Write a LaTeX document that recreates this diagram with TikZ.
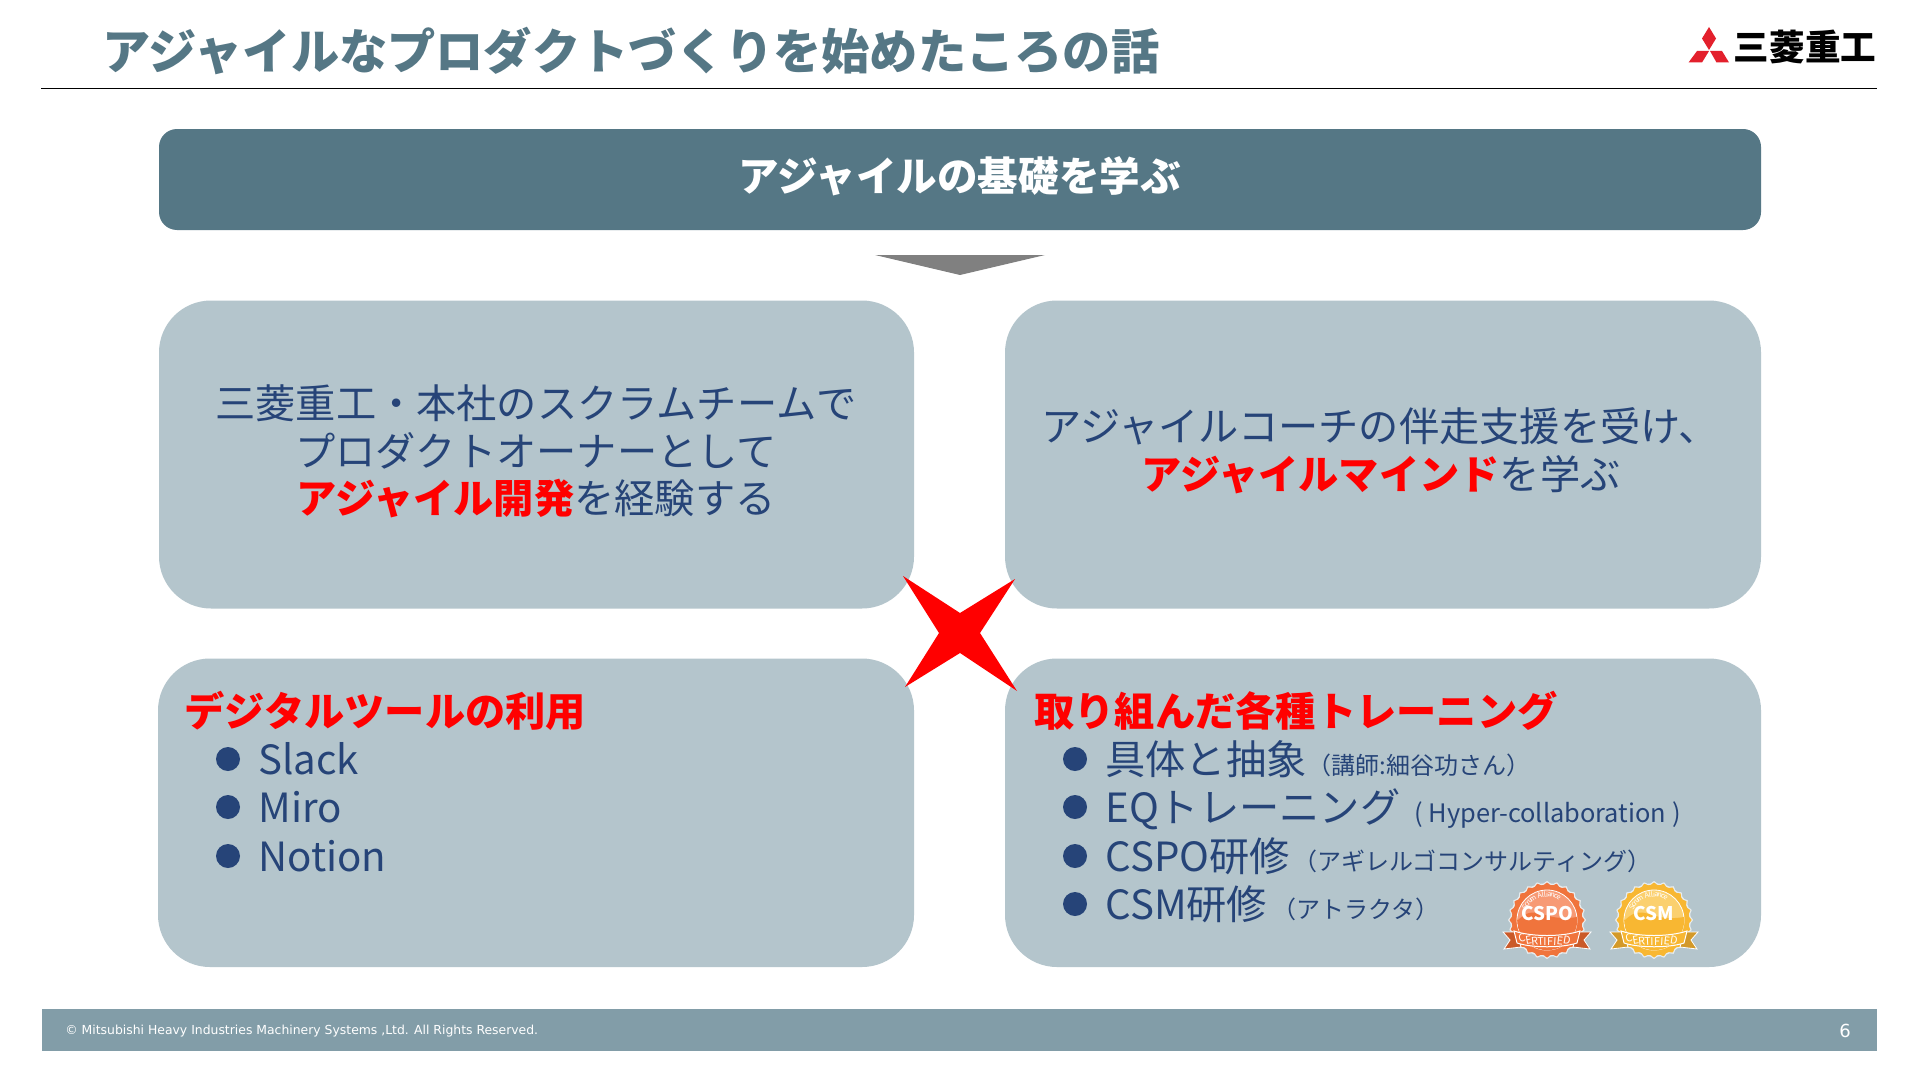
\documentclass[tikz,border=0pt]{standalone}
\usepackage{fontspec}
\setmainfont{Noto Sans CJK JP}
\newfontfamily\footfont{DejaVu Sans}
\definecolor{slate}{HTML}{557785}
\definecolor{pale}{HTML}{B4C5CC}
\definecolor{foot}{HTML}{829DA8}
\definecolor{ink}{HTML}{264478}
\definecolor{logored}{HTML}{E3202C}
\definecolor{omain}{HTML}{F0743C}
\definecolor{olight}{HTML}{F79A75}
\definecolor{odark}{HTML}{EE6A30}
\definecolor{ymain}{HTML}{F8B732}
\definecolor{ylight}{HTML}{FBD06F}
\definecolor{ydark}{HTML}{F8B430}
\tikzset{
  x=0.5pt,y=-0.5pt,
  panel/.style={fill=pale,rounded corners=26pt},
  tbig/.style={inner sep=0,font=\fontsize{20.12}{20}\selectfont,text=ink,text height=17.6pt,text depth=2.4pt},
  tsmall/.style={inner sep=0,font=\fontsize{12}{12}\selectfont,text=ink,text height=10.6pt,text depth=1.4pt},
  dot/.style={fill=ink},
  arcletter/.style={inner sep=0,text=white,font=\fontsize{3.6}{4}\selectfont},
  ribletter/.style={inner sep=0,text=white,font=\rmfamily\fontsize{5.4}{6}\selectfont},
}
\newcommand{\hot}[1]{\textcolor{red}{\textbf{#1}}}
% badge: cx, cy, main, light, dark, label
\newcommand{\badge}[6]{%
 \begin{scope}[shift={(#1,#2)},x=0.5pt,y=0.5pt]
  \fill[white,opacity=.7] plot[smooth cycle,samples=72,domain=0:355,variable=\t] ({(37.5+1.5*cos(24*\t))*cos(\t)},{(37.5+1.5*cos(24*\t))*sin(\t)});
  \fill[#3] plot[smooth cycle,samples=72,domain=0:355,variable=\t] ({(36+1.5*cos(24*\t))*cos(\t)},{(36+1.5*cos(24*\t))*sin(\t)});
  \draw[white,line width=0.4pt,fill=#4] (0,0) circle (15pt);
  \fill[#3] (-30,-1) .. controls (-10,19) and (-6,-3) .. (30,3) arc (6:-186:30) -- cycle;
  \foreach \ch/\ang in {S/150,c/143,r/137,u/131,m/123,A/107,l/100,l/95,i/90,a/84,n/77,c/70,e/63}{
    \node[arcletter,rotate=\ang-90] at (\ang:25.5) {\ch};
  }
  \node[text=white,font=\fontsize{9.4}{9}\selectfont\bfseries,inner sep=0] (#6label) at (0,7) {#6};
  \fill[#5!85!black,draw=white,line width=0.4pt] (-30,-12) -- (-44,-12) -- (-37,-20) -- (-43,-29) -- (-26,-27) -- cycle;
  \fill[#5!85!black,draw=white,line width=0.4pt] (30,-12) -- (44,-12) -- (37,-20) -- (43,-29) -- (26,-27) -- cycle;
  \fill[#3,draw=white,line width=0.5pt] (-33,-11) .. controls (-15,-17) and (15,-17) .. (33,-11) -- (30,-23) .. controls (15,-28) and (-15,-28) .. (-30,-23) -- cycle;
  \foreach \ch/\xx/\yy/\rr in {C/-25/-18/12,E/-18.5/-20/9,R/-12.5/-21/6,T/-6.5/-21.5/3,I/-2/-22/0,F/3/-22/0,I/8/-21.5/-3,E/13/-21/-6,D/20/-20/-9}{
    \node[ribletter,rotate=\rr] at (\xx,\yy) {\ch};
  }
 \end{scope}}
\begin{document}
\begin{tikzpicture}
\useasboundingbox (0,0) rectangle (1920,1081);
\fill[white] (0,0) rectangle (1920,1081);
% title
\node[inner sep=0,anchor=west,text=slate,font=\fontsize{24.12}{24}\selectfont\bfseries,text height=21.1pt,text depth=2.9pt] (title) at (102,51) {アジャイルなプロダクトづくりを始めたころの話};
\draw[black,line width=0.5pt] (41,88.5) -- (1877,88.5);
% logo
\fill[logored] (1709,27) -- (1716,38.5) -- (1709,50) -- (1702,38.5) -- cycle;
\fill[logored] (1697,51) -- (1709,51) -- (1702,62.5) -- (1688.5,62.5) -- cycle;
\fill[logored] (1710,51) -- (1722,51) -- (1729,62.5) -- (1716.5,62.5) -- cycle;
\node[inner sep=0,text=black,font=\fontsize{17.8}{17.8}\selectfont\bfseries,text height=15.4pt,text depth=2.1pt] (logo) at (1805,47.5) {三菱重工};
% banner
\fill[slate,rounded corners=9pt] (159,129) rectangle (1761,230);
\node[tbig,text=white,font=\fontsize{20.3}{20}\selectfont\bfseries] (banner) at (959.5,176) {アジャイルの基礎を学ぶ};
\fill[black!50] (875,255) -- (1045,255) -- (960,275) -- cycle;
% panels
\fill[panel] (159,300.5) rectangle (914,608.5);
\fill[panel] (1005,300.5) rectangle (1761,608.5);
\fill[panel] (158,658.5) rectangle (914,967);
\fill[panel] (1005,658.5) rectangle (1761,967);
% star
\fill[red] (903,576) -- (960,613) -- (1015,579) -- (980,633) -- (1017,691) -- (960,653) -- (905,687) -- (939,633) -- cycle;
% top left
\node[tbig] (a1) at (536,403) {三菱重工・本社のスクラムチームで};
\node[tbig] (a2) at (536,451) {プロダクトオーナーとして};
\node[tbig] (a3) at (536,498) {\hot{アジャイル開発}を経験する};
% top right
\node[tbig,anchor=west] (b1) at (1041,426) {アジャイルコーチの伴走支援を受け、};
\node[tbig,anchor=west] (b2) at (1141,474) {\hot{アジャイルマインド}を学ぶ};
% bottom left
\node[tbig,anchor=west] (c0) at (184,711) {\hot{デジタルツールの利用}};
\foreach \yy/\tt/\nn in {759/Slack/c1,807/Miro/c2,856/Notion/c3}{
  \fill[dot] (228,\yy) circle (6pt);
  \node[tbig,anchor=west] (\nn) at (258,\yy) {\tt};
}
% bottom right
\node[tbig,anchor=west] (d0) at (1034,711) {\hot{取り組んだ各種トレーニング}};
\foreach \yy in {759,807,856,904}{\fill[dot] (1075,\yy) circle (6pt);}
\node[tbig,anchor=west] (d1) at (1105,759) {具体と抽象};
\node[tbig,anchor=west] (d2) at (1105,807) {EQトレーニング};
\node[tbig,anchor=west] (d3) at (1105,856) {CSPO研修};
\node[tbig,anchor=west] (d4) at (1105,904) {CSM研修};
\node[tsmall,anchor=west] (e1) at (1307,765) {（講師:細谷功さん）};
\node[tsmall,anchor=west,font=\fontsize{12.7}{12}\selectfont] (e2) at (1414,813) {( Hyper-collaboration )};
\node[tsmall,anchor=west] (e3) at (1293,861) {（アギレルゴコンサルティング）};
\node[tsmall,anchor=west] (e4) at (1272,909) {（アトラクタ）};
% badges
\badge{1547}{920}{omain}{olight}{odark}{CSPO}
\badge{1654}{920}{ymain}{ylight}{ydark}{CSM}
% footer
\fill[foot] (42,1009) rectangle (1877,1051);
\node[inner sep=0,anchor=west,text=white,font=\footfont\fontsize{6.2}{7}\selectfont] (copy) at (65,1031) {© Mitsubishi Heavy Industries Machinery Systems ,Ltd. All Rights Reserved.};
\node[inner sep=0,text=white,font=\footfont\fontsize{9}{9}\selectfont] (page) at (1845,1031) {6};
\end{tikzpicture}
\end{document}
